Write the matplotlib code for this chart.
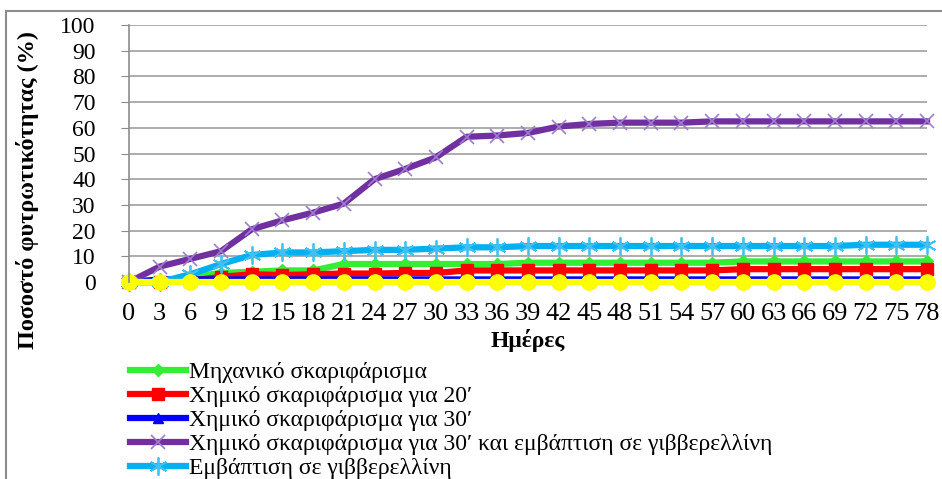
import matplotlib.pyplot as plt
import matplotlib.patches as patches

plt.rcParams['font.family'] = ['Liberation Serif', 'DejaVu Serif']

# days of measurement
days = list(range(0, 79, 3))

# germination percentage per treatment
mech = [0, 0, 2, 3.5, 4, 4.5, 4.5, 7, 7, 7, 7, 7, 7, 7.5,
        7.5, 7.5, 7.5, 7.5, 7.5, 7.5, 8, 8, 8, 8, 8, 8, 8]
chem20 = [0, 0, 0.5, 2, 3, 2.7, 3, 3.3, 3.3, 3.5, 3.5, 4.5, 4.5, 4.5,
          4.5, 4.5, 4.5, 4.5, 4.5, 4.5, 5, 5, 5, 5, 5, 5, 5]
chem30 = [0, 1, 1, 1, 1, 1, 1, 1, 1, 1, 1, 1, 1, 1,
          1, 1, 1, 1, 1, 1, 1, 1, 1, 1, 1, 1, 1]
chem30_gib = [0, 6, 9, 12, 20.5, 24, 27, 30.5, 40, 44, 48.5, 56.5, 57, 58,
              60.5, 61.5, 62, 62, 62, 62.5, 62.5, 62.5, 62.5, 62.5, 62.5, 62.5, 62.5]
gib = [0, 0, 3, 7, 10.5, 11.5, 11.5, 12, 12.5, 12.5, 13, 13.5, 13.5, 14,
       14, 14, 14, 14, 14, 14, 14, 14, 14, 14, 14.5, 14.5, 14.5]
control = [0] * 27

labels = ['Μηχανικό σκαριφάρισμα',
          'Χημικό σκαριφάρισμα για 20′',
          'Χημικό σκαριφάρισμα για 30′',
          'Χημικό σκαριφάρισμα για 30′ και εμβάπτιση σε γιββερελλίνη',
          'Εμβάπτιση σε γιββερελλίνη']

W, H = 942, 479
fig = plt.figure(figsize=(W / 100, H / 100), dpi=100)
ax = fig.add_axes([129 / W, (H - 282) / H, (927 - 129) / W, (282 - 25) / H])

# grey frame round the chart
fig.patches.append(patches.Rectangle((6 / W, -0.05), 1.0, 1 - 11 / H + 0.05,
                                     transform=fig.transFigure, fill=False,
                                     edgecolor='#8c8c8c', linewidth=1.5))

lw = 4.5
styles = [
    (mech, '#33ee33', dict(marker='D', markersize=6)),
    (chem20, '#ff0000', dict(marker='s', markersize=8)),
    (chem30, '#0000ff', dict(marker='^', markersize=7)),
    (chem30_gib, '#7030a0', dict(marker='x', markersize=10, markeredgewidth=1.2,
                                 markeredgecolor='#a07cd0')),
    (gib, '#00b0f0', dict(marker=(6, 2, 0), markersize=13, markeredgewidth=1.3,
                          markeredgecolor='#40c0f0')),
    (control, '#ffff00', dict(marker='o', markersize=11)),
]
handles = []
for vals, col, mk in styles:
    h, = ax.plot(days, vals, color=col, linewidth=lw, clip_on=False,
                 solid_joinstyle='round', **mk)
    handles.append(h)

ax.set_xlim(0, 78)
ax.set_ylim(0, 100)
ax.set_yticks(range(0, 101, 10))
ax.set_xticks(days)
ax.set_xticklabels([str(d) for d in days])
ax.grid(axis='y', color='#a6a6a6', linewidth=1.3)
ax.set_axisbelow(True)
for s in ['top', 'right', 'bottom']:
    ax.spines[s].set_visible(False)
ax.spines['left'].set_color('#8c8c8c')
ax.spines['left'].set_linewidth(1.2)
ax.tick_params(axis='y', length=6, color='#8c8c8c', labelsize=17, pad=18)
ax.tick_params(axis='x', length=0, labelsize=19, pad=15)

fig.text(28 / W, 1 - 190 / H, 'Ποσοστό φυτρωτικότητας (%)', rotation=90,
         ha='center', va='center', fontsize=17.5, fontweight='bold')
fig.text(528 / W, 1 - 341 / H, 'Ημέρες', ha='center', va='center',
         fontsize=17, fontweight='bold')

fig.legend(handles[:5], labels, loc='upper left',
           bbox_to_anchor=(118 / W, 1 - 350 / H), frameon=False,
           fontsize=17, handlelength=2.4, handletextpad=0.12,
           labelspacing=0.1, borderpad=0, numpoints=1)

fig.savefig('out.png', dpi=100)
